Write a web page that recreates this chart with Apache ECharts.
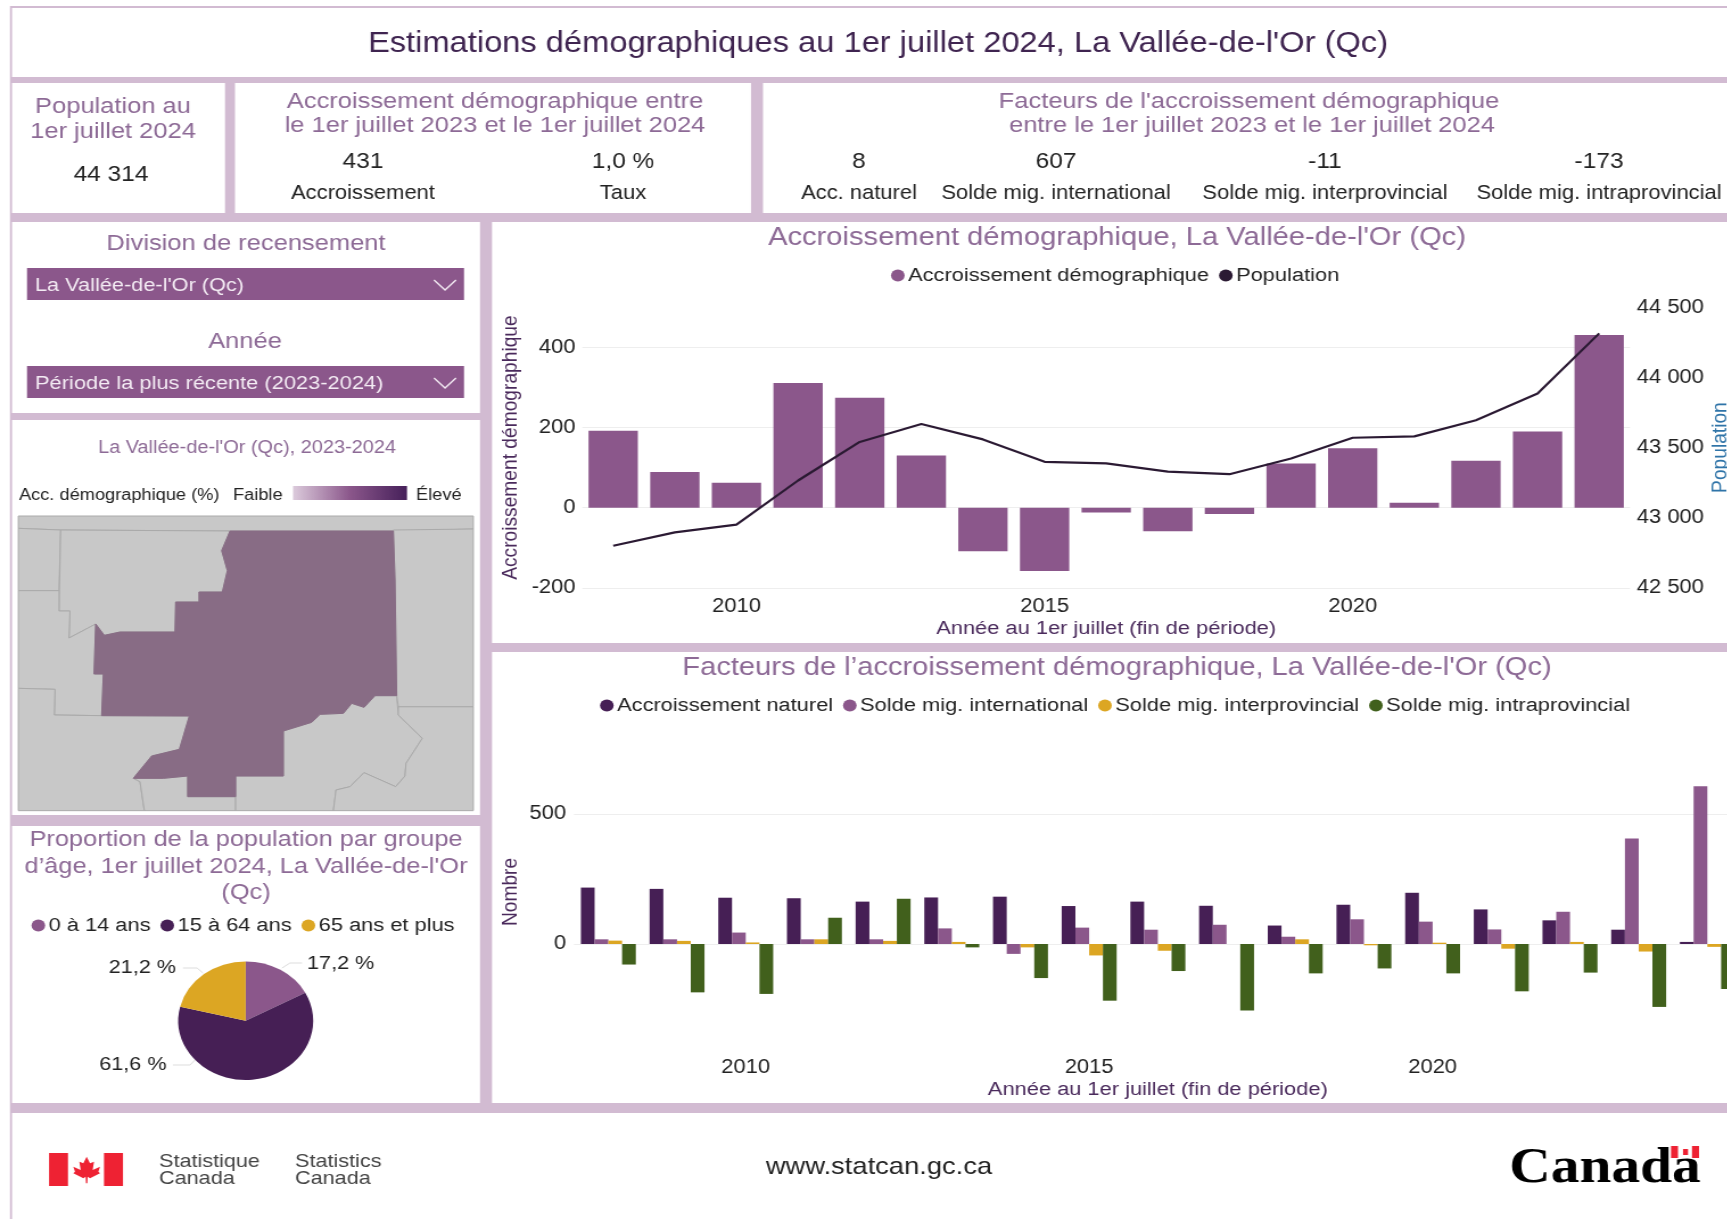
<!DOCTYPE html>
<html lang="fr">
<head>
<meta charset="utf-8">
<title>Estimations démographiques</title>
<script src="https://cdn.jsdelivr.net/npm/echarts@6/dist/echarts.min.js"></script>
<style>
html,body{margin:0;padding:0;background:#fff;overflow:hidden;width:1728px;height:1219px}
#c{position:absolute;left:0;top:0;height:1219px;transform-origin:0 0}
</style>
</head>
<body>
<div id="c"></div>
<script>
// --- data ---
const years = ['2008','2009','2010','2011','2012','2013','2014','2015','2016','2017','2018','2019','2020','2021','2022','2023','2024'];
const growth = [192,89,62,311,274,130,-109,-158,-12,-59,-16,110,148,12,117,190,431];
const population = [42800,42895,42950,43265,43540,43668,43558,43398,43387,43328,43310,43422,43570,43580,43695,43885,44314];
const natural = [217,212,178,176,163,179,182,146,163,147,71,151,197,133,91,55,8];
const international = [18,18,44,18,18,60,-38,63,55,74,28,95,86,56,124,406,607];
const interprovincial = [13,12,6,18,12,8,-13,-44,-26,0,18,-5,5,-18,8,-29,-11];
const intraprovincial = [-79,-186,-192,101,174,-13,-131,-218,-104,-256,-113,-94,-113,-182,-110,-242,-173];
const ageGroups = ['0 à 14 ans','15 à 64 ans','65 ans et plus'];
const ageShares = [17.2,61.6,21.2];
const growthTicks = {min:-200,max:500,interval:200};
const popTicks = {min:42500,max:44500,interval:500};
const factorTicks = {min:-500,max:900,interval:500};

// census division outlines (schematic map, traced in reference pixels x3)
const regionMain = [[690,333],[1180,333],[1185,480],[1190,827],[1125,827],[1092,862],[1055,850],[1030,880],[960,883],[935,907],[850,933],[850,1068],[707,1068],[707,1130],[563,1130],[563,1068],[490,1075],[400,1075],[455,1008],[538,988],[568,888],[305,887],[310,762],[282,762],[287,612],[313,646],[360,636],[525,636],[527,546],[597,546],[597,516],[667,516],[682,452],[665,392],[690,333]];
const regionsOther = [
 [[55,288],[1420,288],[1420,327],[1180,333],[690,333],[182,330],[55,325]],
 [[55,325],[182,330],[177,512],[55,512]],
 [[182,330],[690,333],[665,392],[682,452],[667,516],[597,516],[597,546],[527,546],[525,636],[360,636],[313,646],[287,612],[207,654],[210,573],[177,573]],
 [[55,512],[177,512],[177,573],[210,573],[207,654],[287,612],[282,762],[310,762],[305,887],[163,885],[165,808],[55,805]],
 [[55,805],[165,808],[163,885],[305,887],[568,888],[538,988],[455,1008],[400,1075],[420,1085],[433,1172],[55,1172]],
 [[400,1075],[490,1075],[563,1068],[563,1130],[707,1130],[707,1172],[433,1172],[420,1085]],
 [[850,933],[935,907],[960,883],[1030,880],[1055,850],[1092,862],[1125,827],[1190,827],[1195,885],[1267,955],[1218,1030],[1215,1068],[1187,1100],[1092,1058],[1050,1100],[1008,1110],[1000,1172],[707,1172],[707,1068],[850,1068]],
 [[1195,860],[1420,860],[1420,1172],[1000,1172],[1008,1110],[1050,1100],[1092,1058],[1187,1100],[1215,1068],[1218,1030],[1267,955],[1195,885]],
 [[1180,330],[1420,327],[1420,860],[1195,860],[1190,827],[1185,480]]
];
const leaf = [[260,1010],[270,1030],[282,1025],[278,1050],[300,1040],[295,1055],[300,1060],[270,1075],[263,1070],[262,1090],[258,1090],[257,1070],[250,1075],[220,1060],[225,1055],[220,1040],[242,1050],[238,1025],[250,1030]];

// --- look ---
const K = 1.138;               // the reference is stretched horizontally
const X = p => p / K;
const W = 1728 / K;
const FF = '"Liberation Sans", Arial, sans-serif';
const BAND = '#d2bbd2', PUR = '#8b578b', DARK = '#461f55', GOLD = '#dca623', GREEN = '#41601c';
const TITLE = '#8d6a96', INK = '#222222', AXN = '#4a2a5c';
const spaced = v => String(v).replace(/\B(?=(\d{3})+$)/g, ' ');

document.getElementById('c').style.width = W + 'px';
document.getElementById('c').style.transform = 'scaleX(' + K + ')';
const chart = echarts.init(document.getElementById('c'));

const rect = (x0,y0,x1,y1,fill,extra) => Object.assign({type:'rect',z:-20,silent:true,
  shape:{x:X(x0),y:y0,width:X(x1-x0),height:y1-y0},style:{fill}},extra||{});
const txt = (text,x,y,size,fill,opt) => Object.assign({type:'text',z:50,silent:true,
  style:Object.assign({text,x:X(x),y,fill,font:size+'px '+FF,align:'center',verticalAlign:'middle'},opt||{})});
const chevron = (y) => ({type:'polyline',z:50,silent:true,
  shape:{points:[[X(434),y],[X(445),y+10],[X(456),y]]},style:{stroke:'#f2e9f2',lineWidth:1.4,fill:null}});

const graphics = [
  rect(10,6,1728,1113,BAND),
  rect(10,1113,12,1219,BAND),
  rect(12,8,1728,77,'#fff',{z:-10}),
  rect(12,83,225,213,'#fff',{z:-10}),
  rect(235,83,751,213,'#fff',{z:-10}),
  rect(763,83,1728,213,'#fff',{z:-10}),
  rect(12,222,480,413,'#fff',{z:-10}),
  rect(12,420,480,815,'#fff',{z:-10}),
  rect(12,826,480,1103,'#fff',{z:-10}),
  rect(492,222,1728,643,'#fff',{z:-10}),
  rect(492,652,1728,1103,'#fff',{z:-10}),
  rect(27,268,464,300,PUR,{z:-5}),
  rect(27,366,464,398,PUR,{z:-5}),
  chevron(280), chevron(378),
  txt('Population au',113,106.5,22.4,TITLE), txt('1er juillet 2024',113,132,22.4,TITLE),
  txt('44 314',111,175,21.5,INK),
  txt('Accroissement démographique entre',495,102,22.4,TITLE),
  txt('le 1er juillet 2023 et le 1er juillet 2024',495,126,22.4,TITLE),
  txt('431',363,162,21.5,INK), txt('Accroissement',363,193.5,19.3,INK),
  txt('1,0 %',623,162,21.5,INK), txt('Taux',623,193.5,19.3,INK),
  txt("Facteurs de l'accroissement démographique",1249,102,22.4,TITLE),
  txt('entre le 1er juillet 2023 et le 1er juillet 2024',1252,126,22.4,TITLE),
  txt('8',859,162,21.5,INK), txt('Acc. naturel',859,193.5,19.3,INK),
  txt('607',1056,162,21.5,INK), txt('Solde mig. international',1056,193.5,19.3,INK),
  txt('-11',1325,162,21.5,INK), txt('Solde mig. interprovincial',1325,193.5,19.3,INK),
  txt('-173',1599,162,21.5,INK), txt('Solde mig. intraprovincial',1599,193.5,19.3,INK),
  txt('Division de recensement',246,244,22.4,TITLE),
  txt('Année',245,342,22.4,TITLE),
  txt("La Vallée-de-l'Or (Qc)",35,286,19.1,'#f4ecf4',{align:'left'}),
  txt('Période la plus récente (2023-2024)',35,384,19.2,'#f4ecf4',{align:'left'}),
  txt('Acc. démographique (%)',19,496,16,INK,{align:'left'}),
  txt('Faible',233,496,16,INK,{align:'left'}),
  txt('Élevé',416,496,16,INK,{align:'left'}),
  {type:'rect',z:50,silent:true,shape:{x:X(293),y:486,width:X(114),height:14},
   style:{fill:new echarts.graphic.LinearGradient(0,0,1,0,[{offset:0,color:'#dccbdc'},{offset:0.5,color:'#8b578b'},{offset:1,color:'#46205a'}])}},
  rect(49,1153,68,1186,'#ee2233',{z:50}),
  rect(104,1153,123,1186,'#ee2233',{z:50}),
  {type:'polygon',z:50,silent:true,shape:{points:leaf.map(p=>[X(p[0]/3),820+p[1]/3])},style:{fill:'#ee2233'}},
  txt('Statistique',159,1162,19,'#444',{align:'left'}), txt('Canada',159,1179,19,'#444',{align:'left'}),
  txt('Statistics',295,1162,19,'#444',{align:'left'}), txt('Canada',295,1179,19,'#444',{align:'left'}),
  txt('www.statcan.gc.ca',879,1167,24,'#222'),
  txt('Canada',1605,1169,50.4,'#000',{font:'bold 50.4px "Liberation Serif", serif'}),
  rect(1671,1146,1678,1158,'#ee2233',{z:51}),
  rect(1678,1146,1692,1158,'#ffffff',{z:50}),
  rect(1692,1146,1699,1158,'#ee2233',{z:51}),
  rect(1683,1149,1688,1155,'#ee2233',{z:51})
];

// schematic map, flipped so that north is up
const toGeo = ring => ring.map(p => [X(p[0]/3), -(420 + p[1]/3)]);
const features = regionsOther.map((ring,i) => ({type:'Feature',properties:{name:'r'+i},
  geometry:{type:'Polygon',coordinates:[toGeo(ring)]}}));
features.push({type:'Feature',properties:{name:"La Vallée-de-l'Or"},geometry:{type:'Polygon',coordinates:[toGeo(regionMain)]}});
echarts.registerMap('cd',{type:'FeatureCollection',features});

const titleOf = (text,x,top,size,extra) => Object.assign({text,left:X(x),top,textAlign:'center',padding:0,
  textStyle:Object.assign({fontFamily:FF,fontSize:size,fontWeight:'normal',color:TITLE},extra||{})});

const hideAxis = {axisLine:{show:false},axisTick:{show:false}};
const labelStyle = {fontFamily:FF,fontSize:19.3,color:INK};
const nameStyle = {fontFamily:FF,fontSize:19.2,color:AXN};
const legendOf = (names,x,y) => ({data:names.map(name=>({name,icon:'circle'})),left:X(x),top:y-11,padding:0,
  itemWidth:12,itemHeight:12,itemGap:8.7,selectedMode:false,textStyle:{fontFamily:FF,fontSize:19.2,color:INK,padding:[0,0,0,-2]}});
const fiveYears = (i,v) => +v % 5 === 0;

// where the pie's value labels sit, and their leader lines, as in the reference
const pieSpots = [
  {x:307,y:963.5,align:'left',line:[[302,963],[290,963],[282,968]]},
  {x:166.5,y:1064.5,align:'right',line:[[173,1065],[190,1065],[197,1058]]},
  {x:176,y:967.5,align:'right',line:[[183,968],[197,968],[203,973]]}
];

const option = {
  animation:false,
  backgroundColor:'#fff',
  title:[
    titleOf("Estimations démographiques au 1er juillet 2024, La Vallée-de-l'Or (Qc)",878,30,28.7,{color:'#3f2450'}),
    titleOf("Accroissement démographique, La Vallée-de-l'Or (Qc)",1117,225,25.6),
    titleOf("Facteurs de l’accroissement démographique, La Vallée-de-l'Or (Qc)",1117,655,25.6),
    titleOf("La Vallée-de-l'Or (Qc), 2023-2024",247,439,17.5),
    titleOf("Proportion de la population par groupe\nd’âge, 1er juillet 2024, La Vallée-de-l'Or\n(Qc)",246,827,22.3,{lineHeight:26.5})
  ],
  legend:[
    legendOf(['Accroissement démographique','Population'],891,277),
    legendOf(['Accroissement naturel','Solde mig. international','Solde mig. interprovincial','Solde mig. intraprovincial'],600,707),
    legendOf(ageGroups,31.5,927)
  ],
  grid:[
    {left:X(582.4),top:307.3,width:X(1630-582.4),height:280.5,outerBoundsMode:'none'},
    {left:X(574),top:710,width:X(1741.7-574),height:364,outerBoundsMode:'none'}
  ],
  xAxis:[
    Object.assign({type:'category',gridIndex:0,data:years,boundaryGap:true,
      name:'Année au 1er juillet (fin de période)',nameLocation:'middle',nameGap:31,nameTextStyle:nameStyle,
      axisLabel:Object.assign({interval:fiveYears,margin:9},labelStyle)},
      {axisLine:{show:false,onZero:false},axisTick:{show:false}}),
    Object.assign({type:'category',gridIndex:1,data:years,boundaryGap:true,
      name:'Année au 1er juillet (fin de période)',nameLocation:'middle',nameGap:6,nameTextStyle:nameStyle,
      axisLabel:Object.assign({interval:fiveYears,margin:-16},labelStyle)},
      {axisLine:{show:false,onZero:false},axisTick:{show:false}})
  ],
  yAxis:[
    Object.assign({type:'value',gridIndex:0,position:'left',min:growthTicks.min,max:growthTicks.max,interval:growthTicks.interval,
      name:'Accroissement démographique',nameLocation:'middle',nameRotate:90,nameGap:53.6,nameMoveOverlap:false,nameTextStyle:nameStyle,
      splitLine:{show:true,showMaxLine:false,lineStyle:{color:'#eeeeee',width:1}},
      axisLabel:Object.assign({margin:6,showMaxLabel:false},labelStyle)},hideAxis),
    Object.assign({type:'value',gridIndex:0,position:'right',min:popTicks.min,max:popTicks.max,interval:popTicks.interval,
      name:'Population',nameLocation:'middle',nameRotate:90,nameGap:70,nameMoveOverlap:false,nameTextStyle:{fontFamily:FF,fontSize:19.2,color:'#2f74a8'},
      splitLine:{show:false},axisLabel:Object.assign({margin:6,formatter:spaced},labelStyle)},hideAxis),
    Object.assign({type:'value',gridIndex:1,min:factorTicks.min,max:factorTicks.max,interval:factorTicks.interval,
      name:'Nombre',nameLocation:'middle',nameRotate:90,nameGap:46,nameMoveOverlap:false,nameTextStyle:nameStyle,
      splitLine:{show:true,showMinLine:false,showMaxLine:false,lineStyle:{color:'#eeeeee',width:1}},
      axisLabel:Object.assign({margin:7,showMinLabel:false,showMaxLabel:false},labelStyle)},hideAxis)
  ],
  series:[
    {name:'Accroissement démographique',type:'bar',xAxisIndex:0,yAxisIndex:0,data:growth,barWidth:'80%',itemStyle:{color:PUR},silent:true},
    {name:'Population',type:'line',xAxisIndex:0,yAxisIndex:1,data:population,showSymbol:false,symbol:'none',z:5,lineStyle:{color:'#2b1a33',width:2.2},itemStyle:{color:'#2b1a33'},silent:true},
    {name:'Accroissement naturel',type:'bar',xAxisIndex:1,yAxisIndex:2,data:natural,barGap:0,barCategoryGap:'20%',itemStyle:{color:DARK},silent:true},
    {name:'Solde mig. international',type:'bar',xAxisIndex:1,yAxisIndex:2,data:international,itemStyle:{color:PUR},silent:true},
    {name:'Solde mig. interprovincial',type:'bar',xAxisIndex:1,yAxisIndex:2,data:interprovincial,itemStyle:{color:GOLD},silent:true},
    {name:'Solde mig. intraprovincial',type:'bar',xAxisIndex:1,yAxisIndex:2,data:intraprovincial,itemStyle:{color:GREEN},silent:true},
    {type:'pie',center:[X(245.7),1020.7],radius:59.3,silent:true,
     data:ageGroups.map((name,i)=>({name,value:ageShares[i],itemStyle:{color:[PUR,DARK,GOLD][i]}})),
     label:{show:true,position:'outside',fontFamily:FF,fontSize:19,color:INK,
       formatter:p=>p.value.toFixed(1).replace('.',',')+' %'},
     labelLine:{show:true,length:8,length2:22,lineStyle:{color:'#dddddd',width:1}},
     labelLayout:p=>{const s=pieSpots[p.dataIndex];return {x:X(s.x),y:s.y,align:s.align,verticalAlign:'middle',
       labelLinePoints:s.line.map(q=>[X(q[0]),q[1]])};}},
    {type:'map',map:'cd',silent:true,roam:false,aspectScale:1,showLegendSymbol:false,
     boundingCoords:[[X(18),-516],[X(473),-811]],
     left:X(18),top:516,width:X(455),height:295,
     label:{show:false},emphasis:{disabled:true},select:{disabled:true},
     itemStyle:{areaColor:'#c8c8c8',borderColor:'#aaaaaa',borderWidth:1},
     data:[{name:"La Vallée-de-l'Or",value:1.0,itemStyle:{areaColor:'#886c85',borderColor:'#886c85'}}]}
  ],
  graphic:{elements:graphics}
};
chart.setOption(option);
</script>
</body>
</html>
